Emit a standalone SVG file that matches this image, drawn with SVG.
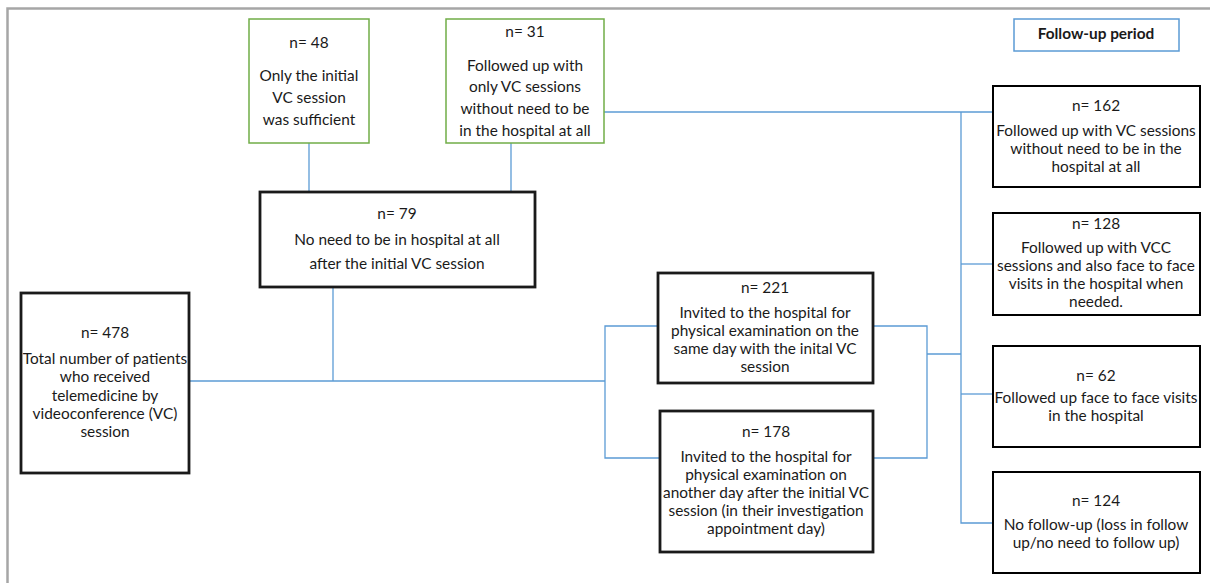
<svg xmlns="http://www.w3.org/2000/svg" width="1210" height="583" viewBox="0 0 1210 583">
<style>
.frame{fill:none;stroke:#a6a6a6;stroke-width:2.5}
.green{fill:#fff;stroke:#70ad47;stroke-width:1.5}
.blk{fill:#fff;stroke:#000;stroke-width:2}
.thick{fill:#fff;stroke:#1a1a1a;stroke-width:2.8}
.blue{fill:#fff;stroke:#5b9bd5;stroke-width:1.5}
.conn{fill:none;stroke:#5b9bd5;stroke-width:1.3}
text{font-family:Lato,"Liberation Sans",sans-serif;font-size:15.4px;fill:#1a1a1a;text-anchor:middle}
.b{font-weight:bold}
</style>
<rect x="0" y="0" width="1210" height="583" fill="#fff"/>
<path class="frame" d="M7.5,583 V8.5 H1210"/>
<g id="connectors">
<path class="conn" d="M309,143 V192"/>
<path class="conn" d="M511,143 V192"/>
<path class="conn" d="M333,287 V381"/>
<path class="conn" d="M189,381 H605"/>
<path class="conn" d="M657,326 H605 V458 H660"/>
<path class="conn" d="M873,326 H927 V458 H873"/>
<path class="conn" d="M927,354 H961"/>
<path class="conn" d="M604,112 H993"/>
<path class="conn" d="M961,112 V523 H993"/>
<path class="conn" d="M961,264 H993"/>
<path class="conn" d="M961,394 H993"/>
</g>
<g id="n48">
<rect class="green" x="249" y="19" width="120" height="124"/>
<text x="309" y="48">n= 48</text>
<text x="309" y="81">Only the initial</text>
<text x="309" y="103">VC session</text>
<text x="309" y="125">was sufficient</text>
</g>
<g id="n31">
<rect class="green" x="446" y="19" width="158" height="124"/>
<text x="525" y="37">n= 31</text>
<text x="525" y="71">Followed up with</text>
<text x="525" y="92">only VC sessions</text>
<text x="525" y="114">without need to be</text>
<text x="525" y="136">in the hospital at all</text>
</g>
<g id="followup">
<rect class="blue" x="1014" y="19" width="165" height="32"/>
<text class="b" x="1096" y="39">Follow-up period</text>
</g>
<g id="n79">
<rect class="thick" x="260" y="192" width="275" height="95"/>
<text x="397" y="219">n= 79</text>
<text x="397" y="245">No need to be in hospital at all</text>
<text x="397" y="269">after the initial VC session</text>
</g>
<g id="n478">
<rect class="thick" x="21" y="293" width="168" height="180"/>
<text x="105" y="338">n= 478</text>
<text x="105" y="364">Total number of patients</text>
<text x="105" y="382">who received</text>
<text x="105" y="401">telemedicine by</text>
<text x="105" y="419">videoconference (VC)</text>
<text x="105" y="437">session</text>
</g>
<g id="n221">
<rect class="thick" x="658" y="273" width="215" height="110"/>
<text x="765" y="293">n= 221</text>
<text x="765" y="318">Invited to the hospital for</text>
<text x="765" y="336">physical examination on the</text>
<text x="765" y="354">same day with the inital VC</text>
<text x="765" y="372">session</text>
</g>
<g id="n178">
<rect class="thick" x="660" y="411" width="213" height="141"/>
<text x="766" y="437">n= 178</text>
<text x="766" y="462">Invited to the hospital for</text>
<text x="766" y="480">physical examination on</text>
<text x="766" y="498">another day after the initial VC</text>
<text x="766" y="516">session (in their investigation</text>
<text x="766" y="534">appointment day)</text>
</g>
<g id="n162">
<rect class="blk" x="993" y="86" width="207" height="101"/>
<text x="1096" y="111">n= 162</text>
<text x="1096" y="136">Followed up with VC sessions</text>
<text x="1096" y="154">without need to be in the</text>
<text x="1096" y="172">hospital at all</text>
</g>
<g id="n128">
<rect class="blk" x="993" y="213" width="207" height="102"/>
<text x="1096" y="229">n= 128</text>
<text x="1096" y="253">Followed up with VCC</text>
<text x="1096" y="271">sessions and also face to face</text>
<text x="1096" y="289">visits in the hospital when</text>
<text x="1096" y="307">needed.</text>
</g>
<g id="n62">
<rect class="blk" x="993" y="346" width="207" height="101"/>
<text x="1096" y="381">n= 62</text>
<text x="1096" y="403">Followed up face to face visits</text>
<text x="1096" y="421">in the hospital</text>
</g>
<g id="n124">
<rect class="blk" x="993" y="472" width="207" height="101"/>
<text x="1096" y="506">n= 124</text>
<text x="1096" y="530">No follow-up (loss in follow</text>
<text x="1096" y="548">up/no need to follow up)</text>
</g>
</svg>
